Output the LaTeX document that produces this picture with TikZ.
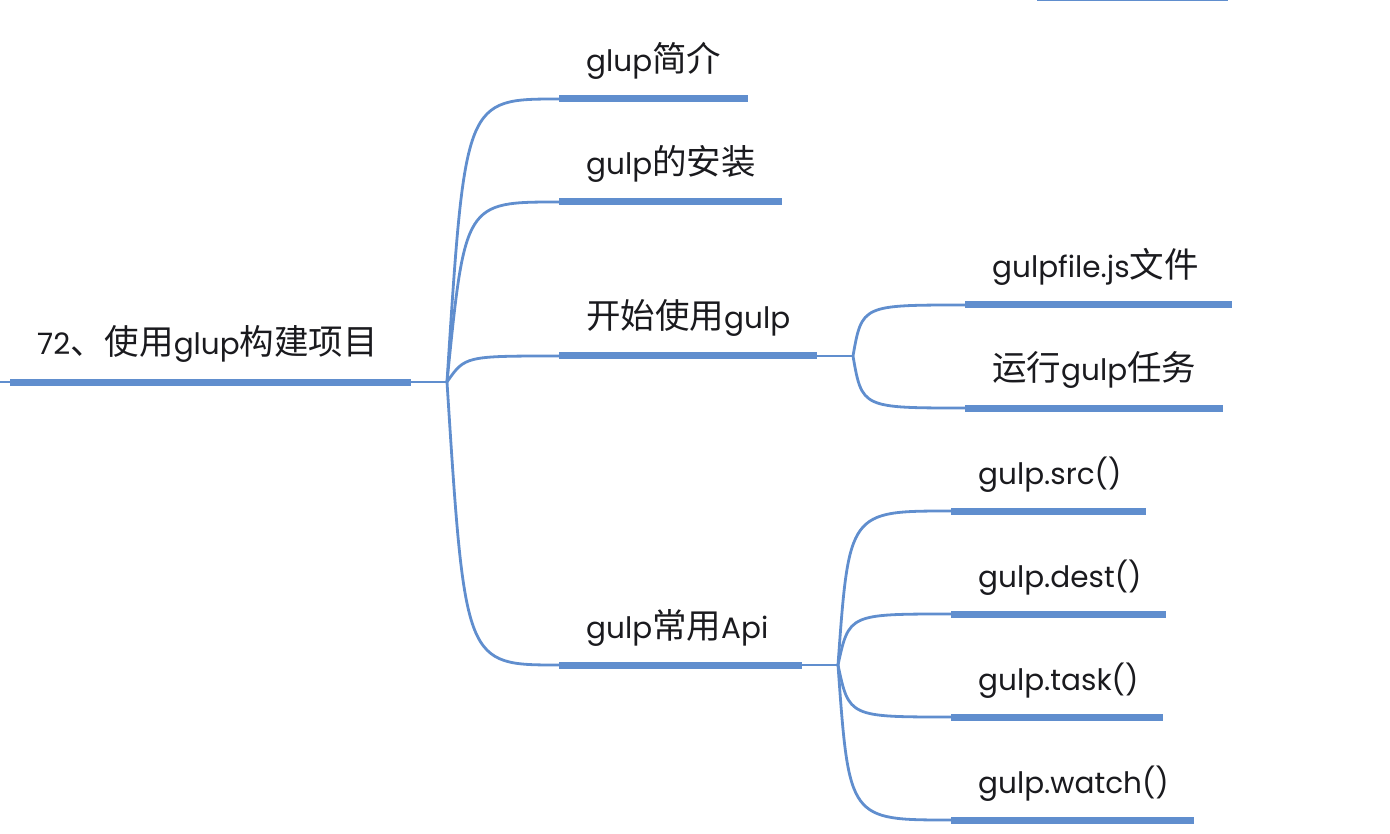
\documentclass[tikz,border=0pt]{standalone}
\usepackage{fontspec}
\setmainfont{Poppins}
\newfontfamily\cjkfont{Noto Sans CJK SC}
\newcommand{\cj}[1]{{\cjkfont\fontsize{34.5}{36}\selectfont #1}}
\usetikzlibrary{calc}
\definecolor{lineblue}{RGB}{96,142,206}
\definecolor{txt}{RGB}{26,26,30}
\newcommand{\mytopic}[5]{%
  \coordinate (#1-s) at (#2,#3);
  \coordinate (#1-e) at (#4,#3);
  \draw[thickline] (#1-s) -- (#1-e);
  \node[toplabel] (#1) at (#2+27,#3-27) {#5};
}
\begin{document}
\begin{tikzpicture}[x=1pt,y=-1pt,
  thickline/.style={line width=7pt, draw=lineblue},
  thinline/.style={line width=2.8pt, draw=lineblue},
  toplabel/.style={anchor=base west, inner sep=0pt, font=\fontsize{29.5}{32}\selectfont, text=txt}]
\useasboundingbox (0,0) rectangle (1390,834);
% cropped line at the top
\coordinate (tl-s) at (1037,0);
\coordinate (tl-e) at (1228,0);
\draw[lineblue, line width=2pt] (tl-s) -- (tl-e);
% root
\mytopic{root}{10}{382}{411}{72\cj{、使用}glup\cj{构建项目}}
\coordinate (root-l) at (0,382);
\coordinate (j0) at (447,382);
\draw[thinline] (root-l) -- (root-s);
\draw[thinline] (root-e) -- (j0);
% level 1
\mytopic{a}{559}{99}{748}{glup\cj{简介}}
\mytopic{b}{559}{202}{782}{gulp\cj{的安装}}
\mytopic{c}{559}{356}{817}{\cj{开始使用}gulp}
\mytopic{d}{559}{665}{802}{gulp\cj{常用}Api}
\coordinate (k0) at (465,382);
\foreach \t in {a,b,c,d}{
  \draw[thinline] (j0) .. controls (k0 |- \t-s) .. (\t-s);
}
% level 2 under c
\coordinate (jc) at (853,356);
\draw[thinline] (c-e) -- (jc);
\mytopic{c1}{965}{305}{1232}{gulpfile.js\cj{文件}}
\mytopic{c2}{965}{408}{1223}{\cj{运行}gulp\cj{任务}}
\coordinate (kc) at (862,356);
\foreach \t in {c1,c2}{
  \draw[thinline] (jc) .. controls (kc |- \t-s) .. (\t-s);
}
% level 2 under d
\coordinate (jd) at (838,665);
\draw[thinline] (d-e) -- (jd);
\mytopic{d1}{951}{511}{1146}{gulp.src()}
\mytopic{d2}{951}{614}{1166}{gulp.dest()}
\mytopic{d3}{951}{717}{1163}{gulp.task()}
\mytopic{d4}{951}{820}{1194}{gulp.watch()}
\coordinate (kd) at (849,665);
\foreach \t in {d1,d2,d3,d4}{
  \draw[thinline] (jd) .. controls (kd |- \t-s) .. (\t-s);
}
\end{tikzpicture}
\end{document}
